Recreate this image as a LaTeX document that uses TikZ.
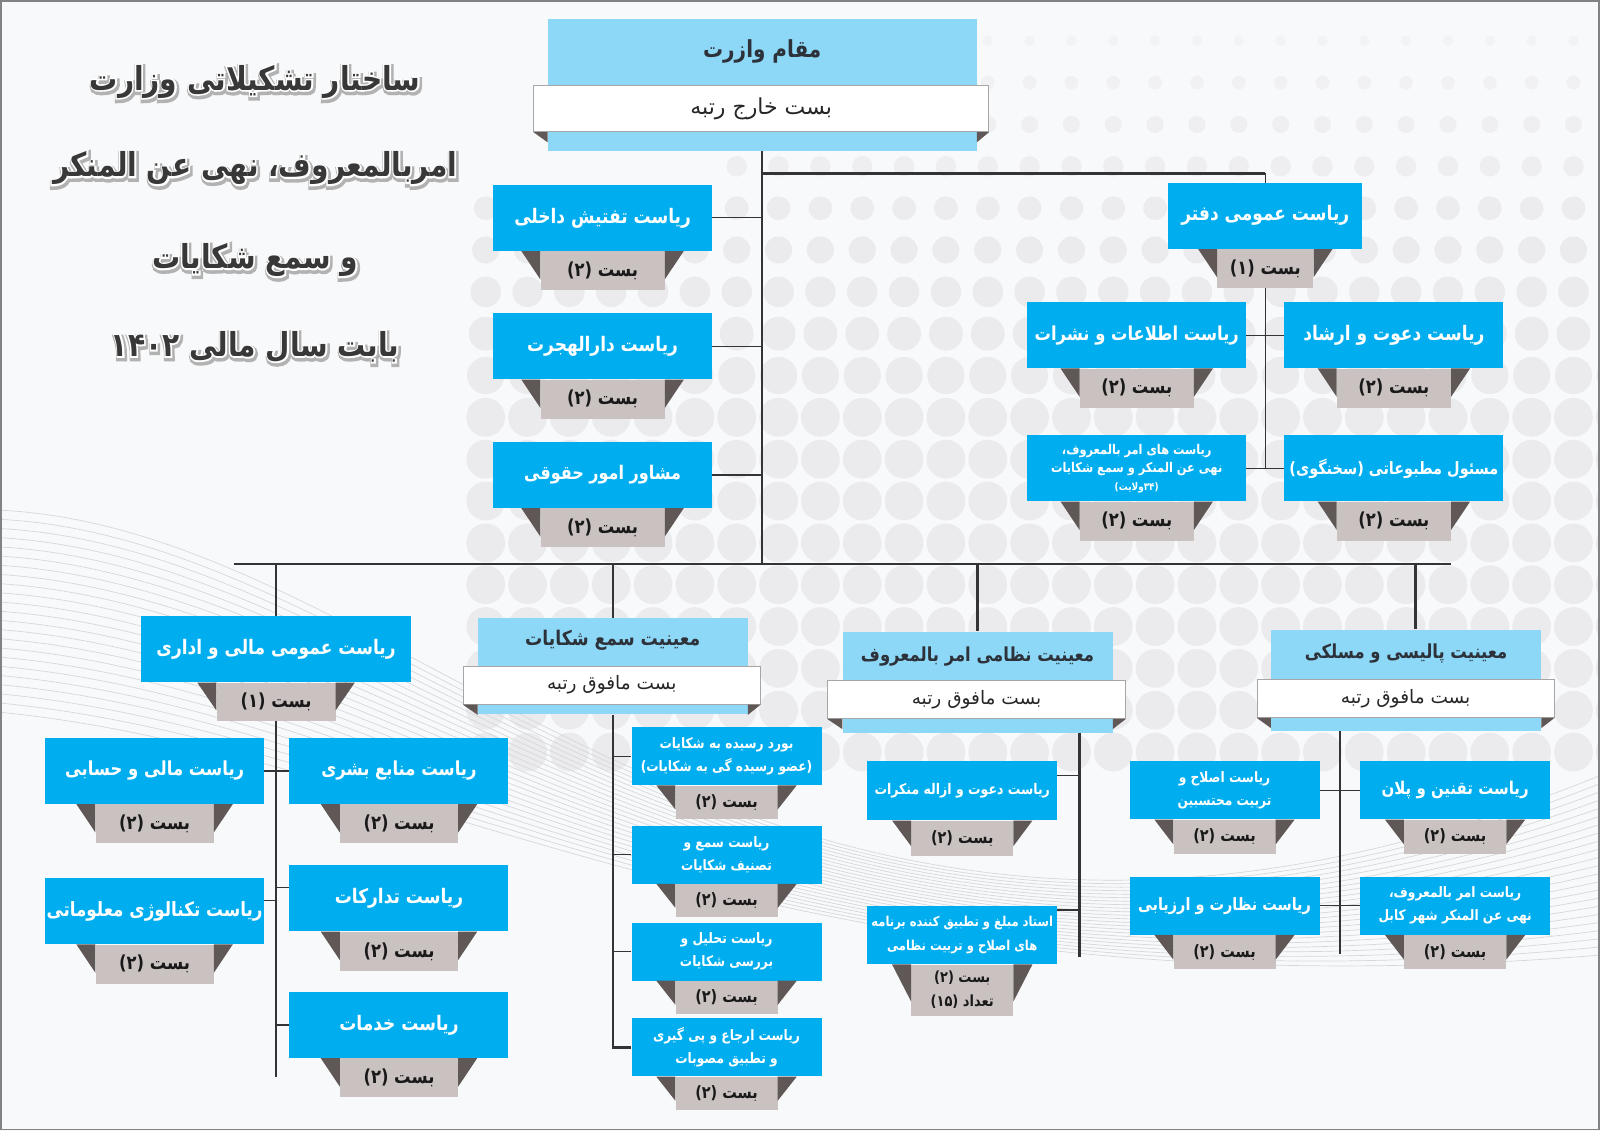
\documentclass[tikz,border=0pt]{standalone}
\usepackage{fontspec}
\usepackage{xcolor}
\usepackage{tikz}
\usetikzlibrary{calc, positioning}
\TeXXeTstate=1
\newfontfamily\fa[Script=Arabic]{DejaVu Sans}
\newfontfamily\facn[Script=Arabic, FakeStretch=0.85]{DejaVu Sans}
\newfontfamily\fahalo[Script=Arabic, FakeStretch=0.85, BoldFeatures={FakeBold=9}]{DejaVu Sans}
\newfontfamily\fashade[Script=Arabic, FakeStretch=0.85, BoldFeatures={FakeBold=18}]{DejaVu Sans}
\newcommand{\rl}[1]{\beginR #1\endR}
\definecolor{unitBlue}{RGB}{0,174,239}
\definecolor{headBlue}{RGB}{141,216,247}
\definecolor{postGray}{RGB}{201,194,193}
\definecolor{foldGray}{RGB}{96,88,86}
\definecolor{lineGray}{RGB}{52,52,54}
\definecolor{headText}{RGB}{45,50,58}
\definecolor{bgFill}{RGB}{248,249,250}
\definecolor{dotGray}{RGB}{235,235,237}
\definecolor{waveGray}{RGB}{214,215,218}
\definecolor{frameGray}{RGB}{130,130,130}

\begin{document}
\begin{tikzpicture}[
    x=1.0204pt, y=-1.0204pt,
    % connector lines
    wire/.style={draw=lineGray, line width=2.4pt},
    thinwire/.style={draw=lineGray, line width=1.2pt},
    % blue unit box and its grey post tab
    unitbox/.style={
        rectangle, fill=unitBlue, text=white,
        inner sep=0pt, align=center,
        minimum width=219pt, minimum height=66pt,
        font=\facn\bfseries\fontsize{20}{24}\selectfont
    },
    smalltxt/.style={font=\facn\bfseries\fontsize{14.4}{23}\selectfont},
    postbox/.style={
        rectangle, fill=postGray, text=black!90,
        inner sep=0pt, align=center,
        minimum width=#1, minimum height=39pt,
        font=\facn\bfseries\fontsize{19.3}{22}\selectfont
    },
    postbox/.default=118pt,
    smallpost/.style={minimum width=102pt, minimum height=34pt,
        font=\facn\bfseries\fontsize{17}{20}\selectfont},
    % light blue deputy box with white rank band
    headbox/.style={
        rectangle, fill=headBlue, inner sep=0pt,
        minimum width=270pt, minimum height=101pt
    },
    headtitle/.style={text=headText,
        font=\facn\bfseries\fontsize{19.3}{22}\selectfont},
    rankband/.style={
        rectangle, fill=white, draw=gray!70, line width=0.8pt,
        text=black!85, inner sep=0pt,
        minimum width=297pt, minimum height=38pt,
        font=\fa\fontsize{18.5}{22}\selectfont
    },
    foldtri/.style={fill=foldGray},
    titletext/.style={text=black!78,
        font=\facn\bfseries\fontsize{33}{40}\selectfont},
    titlehalo/.style={text=white,
        font=\fahalo\bfseries\fontsize{33}{40}\selectfont},
    titleshade/.style={text=black!30,
        font=\fashade\bfseries\fontsize{33}{40}\selectfont},
    wave/.style={draw=waveGray, line width=0.7pt}
]
% ── BACKGROUND ────────────────────────────────────────────────
\fill[bgFill] (0,0) rectangle (1568,1108);
\begin{scope}
\clip (0,0) rectangle (1568,1108);
\foreach \row in {0,...,17} {
  \foreach \col in {0,...,27} {
    \pgfmathsetmacro{\dy}{40+\row*41}
    \pgfmathsetmacro{\dx}{476+\col*41+(\row<4)*246}
    \pgfmathsetmacro{\dr}{min(19,3.5+0.04*\dy)}
    \pgfmathsetmacro{\dop}{min(1,0.3+\dy/350)}
    \fill[dotGray, opacity=\dop] (\dx,\dy) circle[radius=\dr];
  }
}
\foreach \k in {0,...,22} {
  \draw[wave] (0,{500+\k*9}) .. controls (420,{520+\k*10})
      and (760,{1090-\k*4}) .. (1568,{760+\k*8});
}
\end{scope}
\draw[frameGray, line width=1.2pt] (1,1) rectangle (1567,1107);
\useasboundingbox (0,0) rectangle (1568,1108);

% ── TITLE ─────────────────────────────────────────────────────
\node[titleshade] (title1-s) at (251,82)  {\rl{ساختار تشکیلاتی وزارت}};
\node[titlehalo]  (title1-h) at (250,80)  {\rl{ساختار تشکیلاتی وزارت}};
\node[titletext]  (title1)   at (250,80)  {\rl{ساختار تشکیلاتی وزارت}};
\node[titleshade] (title2-s) at (251,167) {\rl{امربالمعروف، نهی عن المنکر}};
\node[titlehalo]  (title2-h) at (250,165) {\rl{امربالمعروف، نهی عن المنکر}};
\node[titletext]  (title2)   at (250,165) {\rl{امربالمعروف، نهی عن المنکر}};
\node[titleshade] (title3-s) at (251,257) {\rl{و سمع شکایات}};
\node[titlehalo]  (title3-h) at (250,255) {\rl{و سمع شکایات}};
\node[titletext]  (title3)   at (250,255) {\rl{و سمع شکایات}};
\node[titleshade] (title4-s) at (251,342) {\rl{بابت سال مالی ۱۴۰۲}};
\node[titlehalo]  (title4-h) at (250,340) {\rl{بابت سال مالی ۱۴۰۲}};
\node[titletext]  (title4)   at (250,340) {\rl{بابت سال مالی ۱۴۰۲}};

% ── MINISTER ──────────────────────────────────────────────────
\node[headbox, minimum width=429pt, minimum height=132pt]
    (minister) at (747,83.5) {};
\node[rankband, minimum width=455pt, minimum height=46pt,
      font=\fa\fontsize{22}{24}\selectfont]
    (minister-r) at (746,106.5) {\rl{بست خارج رتبه}};
\node[headtitle, font=\facn\bfseries\fontsize{23.5}{26}\selectfont]
    (minister-t) at (747,50) {\rl{مقام وازرت}};

% ── LEFT COLUMN: directly under the minister ─────────────────
\node[unitbox] (insp)  at (590.5,213.5) {\rl{ریاست تفتیش داخلی}};
\node[postbox=124pt, below=0pt of insp]  (insp-b)  {\rl{بست (۲)}};
\node[unitbox] (hijra) at (590.5,339.5) {\rl{ریاست دارالهجرت}};
\node[postbox=124pt, below=0pt of hijra] (hijra-b) {\rl{بست (۲)}};
\node[unitbox, font=\facn\bfseries\fontsize{18.8}{24}\selectfont]
    (legal) at (590.5,465.5) {\rl{مشاور امور حقوقی}};
\node[postbox=124pt, below=0pt of legal] (legal-b) {\rl{بست (۲)}};

% ── RIGHT GROUP: office ───────────────────────────────────────
\node[unitbox, minimum width=194pt] (office) at (1240,211.5) {\rl{ریاست عمومی دفتر}};
\node[postbox=96pt, below=0pt of office] (office-b) {\rl{بست (۱)}};
\node[unitbox, font=\facn\bfseries\fontsize{19.2}{24}\selectfont]
    (info)  at (1114,328.5) {\rl{ریاست اطلاعات و نشرات}};
\node[postbox=114pt, below=0pt of info]  (info-b)  {\rl{بست (۲)}};
\node[unitbox] (dawa)  at (1366,328.5) {\rl{ریاست دعوت و ارشاد}};
\node[postbox=114pt, below=0pt of dawa]  (dawa-b)  {\rl{بست (۲)}};
\node[unitbox, font=\facn\bfseries\fontsize{13.4}{18}\selectfont]
    (prov) at (1114,459) {\rl{ریاست های امر بالمعروف،}\\
                          \rl{نهی عن المنکر و سمع شکایات}\\
                          {\fontsize{10.5}{13}\selectfont\rl{(۳۴ولایت)}}};
\node[postbox=114pt, below=0pt of prov]  (prov-b)  {\rl{بست (۲)}};
\node[unitbox, font=\facn\bfseries\fontsize{17}{24}\selectfont]
    (press) at (1366,459) {\rl{مسئول مطبوعاتی (سخنگوی)}};
\node[postbox=114pt, below=0pt of press] (press-b) {\rl{بست (۲)}};

% ── FINANCE & ADMIN ───────────────────────────────────────────
\node[unitbox, minimum width=270pt] (fin) at (270.5,636.5) {\rl{ریاست عمومی مالی و اداری}};
\node[postbox=119pt, minimum height=38pt, below=0pt of fin] (fin-b) {\rl{بست (۱)}};
\node[unitbox, font=\facn\bfseries\fontsize{19.3}{24}\selectfont]
    (acc)  at (151.5,755.5) {\rl{ریاست مالی و حسابی}};
\node[postbox, below=0pt of acc]  (acc-b)  {\rl{بست (۲)}};
\node[unitbox, font=\facn\bfseries\fontsize{19.7}{24}\selectfont]
    (it)   at (151.5,893)   {\rl{ریاست تکنالوژی معلوماتی}};
\node[postbox, below=0pt of it]   (it-b)   {\rl{بست (۲)}};
\node[unitbox, font=\facn\bfseries\fontsize{19.3}{24}\selectfont]
    (hr)   at (391,755.5)   {\rl{ریاست منابع بشری}};
\node[postbox, below=0pt of hr]   (hr-b)   {\rl{بست (۲)}};
\node[unitbox] (proc) at (391,880.5)   {\rl{ریاست تدارکات}};
\node[postbox, below=0pt of proc] (proc-b) {\rl{بست (۲)}};
\node[unitbox] (svc)  at (391,1004.5)  {\rl{ریاست خدمات}};
\node[postbox, below=0pt of svc]  (svc-b)  {\rl{بست (۲)}};

% ── COMPLAINTS DEPUTY ─────────────────────────────────────────
\node[headbox, minimum height=96pt] (compl) at (600.5,653) {};
\node[rankband] (compl-r) at (599.5,671.5) {\rl{بست مافوق رتبه}};
\node[headtitle, font=\facn\bfseries\fontsize{20.2}{22}\selectfont]
    (compl-t) at (600.5,627) {\rl{معینیت سمع شکایات}};
\node[unitbox, smalltxt, minimum width=190pt, minimum height=58pt]
    (board)   at (712,741)    {\rl{بورد رسیده به شکایات}\\\rl{(عضو رسیده گی به شکایات)}};
\node[postbox, smallpost, minimum height=33pt, below=0pt of board]   (board-b)   {\rl{بست (۲)}};
\node[unitbox, smalltxt, minimum width=190pt, minimum height=58pt]
    (classif) at (712,837.5)  {\rl{ریاست سمع و}\\\rl{تصنیف شکایات}};
\node[postbox, smallpost, minimum height=33pt, below=0pt of classif] (classif-b) {\rl{بست (۲)}};
\node[unitbox, smalltxt, minimum width=190pt, minimum height=58pt]
    (analys)  at (712,932.5)  {\rl{ریاست تحلیل و}\\\rl{بررسی شکایات}};
\node[postbox, smallpost, minimum height=33pt, below=0pt of analys]  (analys-b)  {\rl{بست (۲)}};
\node[unitbox, smalltxt, minimum width=190pt, minimum height=58pt]
    (refer)   at (712,1026.5) {\rl{ریاست ارجاع و پی گیری}\\\rl{و تطبیق مصوبات}};
\node[postbox, smallpost, minimum height=33pt, below=0pt of refer]   (refer-b)   {\rl{بست (۲)}};

% ── MILITARY DEPUTY ───────────────────────────────────────────
\node[headbox] (mil) at (958,668.5) {};
\node[rankband, minimum width=298pt] (mil-r) at (957,685.5) {\rl{بست مافوق رتبه}};
\node[headtitle] (mil-t) at (958,643) {\rl{معینیت نظامی امر بالمعروف}};
\node[unitbox, minimum width=190pt, minimum height=59pt,
      font=\facn\bfseries\fontsize{14.7}{20}\selectfont]
    (inv) at (943,775) {\rl{ریاست دعوت و ازاله منکرات}};
\node[postbox, smallpost, minimum height=35pt, below=0pt of inv] (inv-b) {\rl{بست (۲)}};
\node[unitbox, minimum width=190pt, minimum height=58pt,
      font=\facn\bfseries\fontsize{13.6}{24}\selectfont]
    (trainer) at (943,916.5) {\rl{استاد مبلغ و تطبیق کننده برنامه}\\\rl{های اصلاح و تربیت نظامی}};
\node[postbox, smallpost, minimum height=51pt, below=0pt of trainer,
      font=\facn\bfseries\fontsize{15.3}{24}\selectfont]
    (trainer-b) {\rl{بست (۲)}\\\rl{تعداد (۱۵)}};

% ── POLICY DEPUTY ─────────────────────────────────────────────
\node[headbox] (pol) at (1378,666.5) {};
\node[rankband] (pol-r) at (1377.5,684.5) {\rl{بست مافوق رتبه}};
\node[headtitle] (pol-t) at (1378,640) {\rl{معینیت پالیسی و مسلکی}};
\node[unitbox, smalltxt, minimum width=190pt, minimum height=58pt]
    (reform)  at (1200,774.5) {\rl{ریاست اصلاح و}\\\rl{تربیت محتسبین}};
\node[postbox, smallpost, below=0pt of reform]  (reform-b)  {\rl{بست (۲)}};
\node[unitbox, minimum width=190pt, minimum height=58pt,
      font=\facn\bfseries\fontsize{17.6}{22}\selectfont]
    (plan)    at (1426,774.5) {\rl{ریاست تقنین و پلان}};
\node[postbox, smallpost, below=0pt of plan]    (plan-b)    {\rl{بست (۲)}};
\node[unitbox, minimum width=190pt, minimum height=58pt,
      font=\facn\bfseries\fontsize{17}{22}\selectfont]
    (monitor) at (1200,887.5) {\rl{ریاست نظارت و ارزیابی}};
\node[postbox, smallpost, below=0pt of monitor] (monitor-b) {\rl{بست (۲)}};
\node[unitbox, smalltxt, minimum width=190pt, minimum height=58pt]
    (kabul)   at (1426,887.5) {\rl{ریاست امر بالمعروف،}\\\rl{نهی عن المنکر شهر کابل}};
\node[postbox, smallpost, below=0pt of kabul]   (kabul-b)   {\rl{بست (۲)}};

% ── FOLDS beside the grey tabs and the rank bands ─────────────
\foreach \g in {insp-b, hijra-b, legal-b, office-b, info-b, dawa-b, prov-b, press-b,
                fin-b, acc-b, it-b, hr-b, proc-b, svc-b,
                board-b, classif-b, analys-b, refer-b, inv-b, trainer-b,
                reform-b, plan-b, monitor-b, kabul-b} {
  \fill[foldtri] (\g.north west) -- ++(-19pt,0pt)
      -- ($(\g.north west)!0.72!(\g.south west)$) -- cycle;
  \fill[foldtri] (\g.north east) -- ++(19pt,0pt)
      -- ($(\g.north east)!0.72!(\g.south east)$) -- cycle;
}
\foreach \h in {minister, compl, mil, pol} {
  \fill[foldtri] (\h-r.south west) -- (\h-r.south west -| \h.west)
      -- ($(\h-r.south west -| \h.west)+(0,10)$) -- cycle;
  \fill[foldtri] (\h-r.south east) -- (\h-r.south east -| \h.east)
      -- ($(\h-r.south east -| \h.east)+(0,10)$) -- cycle;
}

% ── CONNECTORS: upper part ────────────────────────────────────
\coordinate (bar-l) at (229,553);
\coordinate (bar-r) at (1422,553);
\coordinate (j-office) at (747,170);
\draw[wire] (minister.south) -- (minister.south |- bar-l);
\draw[wire] (j-office) -- (j-office -| office.north);
\draw[thinwire] (j-office -| office.north) -- (office.north);
\draw[thinwire] (insp.east)  -- (insp.east -| minister.south);
\draw[thinwire] (hijra.east) -- (hijra.east -| minister.south);
\draw[thinwire] (legal.east) -- (legal.east -| minister.south);
\draw[thinwire] (office-b.south) -- (office-b.south |- press.west);
\draw[thinwire] (info.east) -- (dawa.west);
\draw[thinwire] (prov.east) -- (press.west);
% ── CONNECTORS: main bar and drops ────────────────────────────
\draw[wire] (bar-l) -- (bar-r);
\coordinate (d-pol) at (1387,553);
\draw[wire] (fin.north |- bar-l)   -- (fin.north);
\draw[wire] (compl.north |- bar-l) -- (compl.north);
\draw[wire] (mil.north |- bar-l)   -- (mil.north);
\draw[wire] (d-pol) -- (d-pol |- pol.north);
% finance tree
\coordinate (fin-end) at (270.5,1055);
\draw[wire] (fin-b.south) -- (fin-end);
\draw[thinwire] (acc.east) -- (hr.west);
\draw[thinwire] ([yshift=11pt]it.east) -- ([yshift=11pt]it.east -| fin-end);
\draw[thinwire] ([yshift=11pt]proc.west) -- ([yshift=11pt]proc.west -| fin-end);
\draw[thinwire] (svc.west) -- (svc.west -| fin-end);
% complaints tree
\draw[wire] (compl.south) -- (compl.south |- refer.west) -- (refer.west);
\draw[thinwire] (board.west -| compl.south)   -- (board.west);
\draw[thinwire] (classif.west -| compl.south) -- (classif.west);
\draw[thinwire] (analys.west -| compl.south)  -- (analys.west);
% military tree
\coordinate (mil-end) at (1058,938);
\draw[wire] (mil.south -| mil-end) -- (mil-end);
\draw[thinwire] ([yshift=-14pt]inv.north east) -- ([yshift=-14pt]inv.north east -| mil-end);
\draw[thinwire] ([yshift=-4pt]trainer.north east) -- ([yshift=-4pt]trainer.north east -| mil-end);
% policy tree
\coordinate (pol-end) at (1313,935);
\draw[wire] (pol.south -| pol-end) -- (pol-end);
\draw[thinwire] (reform.east) -- (plan.west);
\draw[thinwire] (monitor.east) -- (kabul.west);
\end{tikzpicture}
\end{document}
